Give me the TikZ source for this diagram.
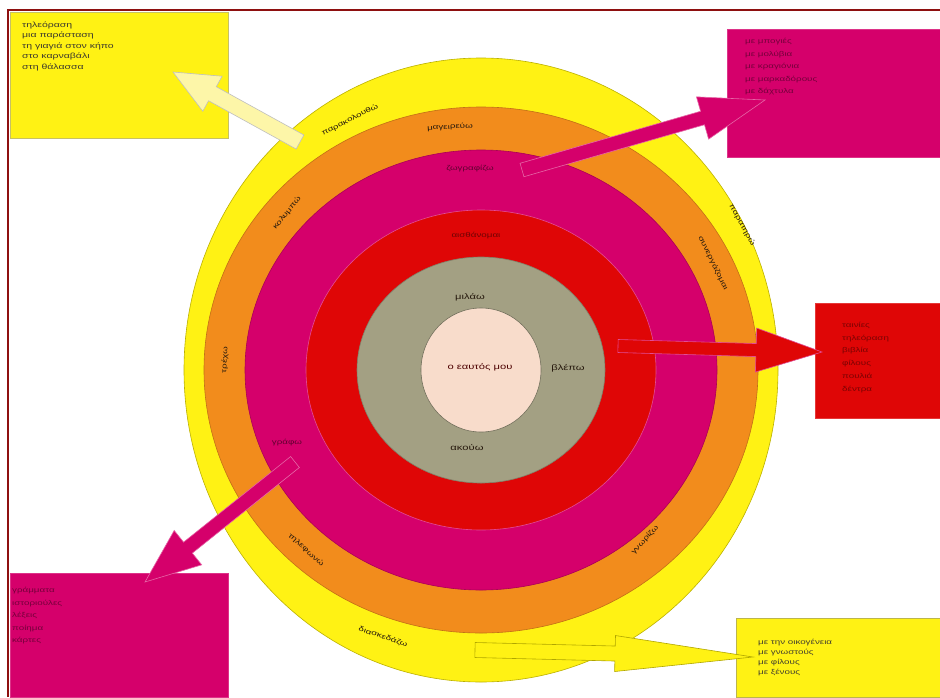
\documentclass[tikz,border=0pt]{standalone}
\usepackage{fontspec}
\setmainfont{Liberation Sans}
\usetikzlibrary{calc}
\definecolor{cyel}{HTML}{FFF214}
\definecolor{cora}{HTML}{F28C1C}
\definecolor{cmag}{HTML}{D5006B}
\definecolor{cred}{HTML}{DF0606}
\definecolor{colv}{HTML}{A3A083}
\definecolor{cpink}{HTML}{F8DCCB}
\definecolor{cframe}{HTML}{8E1010}
\definecolor{cpale}{HTML}{FDF6A8}
\newcommand{\sx}[1]{\scalebox{1.4}[1]{#1}}
\newcommand{\lines}[1]{\sx{\begin{tabular}{@{}l@{}}#1\end{tabular}}}
\newcommand{\blockarrow}[6]{%
  \coordinate (hb) at ($(#2)!#5!(#1)$);
  \draw[#6] ($(#1)!#3!90:(#2)$) -- ($(hb)!#3!-90:(#1)$) -- ($(hb)!#4!-90:(#1)$) -- (#2)
    -- ($(hb)!#4!90:(#1)$) -- ($(hb)!#3!90:(#1)$) -- ($(#1)!#3!-90:(#2)$) -- cycle;}
\begin{document}
\begin{tikzpicture}[x=1pt,y=-1pt,
  ring/.style={line width=0.6pt},
  box/.style={line width=0.5pt},
  boxtext/.style={anchor=north west,inner sep=0pt,font=\fontsize{7}{12.5}\selectfont},
  lbl/.style={inner sep=0pt,font=\fontsize{7}{8}\selectfont,text=black!80!brown},
  olbl/.style={lbl,font=\fontsize{8}{9}\selectfont},
  arr/.style={line width=0.6pt, line join=miter}]
\useasboundingbox (0,0) rectangle (940,697);
\fill[white] (0,0) rectangle (940,697);
\draw[cframe,line width=1.3pt] (8,697) -- (8,10) -- (940,10);

% boxes
\draw[box,fill=cyel,draw=olive!50] (10,12) rectangle (228,138);
\draw[box,fill=cmag,draw=cmag!80!white] (727,29) rectangle (940,157);
\draw[box,fill=cred,draw=cred!80!white] (815,303) rectangle (940,418);
\draw[box,fill=cmag,draw=cmag!80!white] (10,573) rectangle (228,697);
\draw[box,fill=cyel,draw=olive!60] (736,618) rectangle (940,697);

\node[boxtext,text=black!75!olive,font=\fontsize{7.5}{10.5}\selectfont] (t1) at (22,19.5)
  {\lines{τηλεόραση\\μια παράσταση\\τη γιαγιά στον κήπο\\στο καρναβάλι\\στη θάλασσα}};
\node[boxtext,text=cmag!55!black] (t2) at (745,35)
  {\lines{με μπογιές\\με μολύβια\\με κραγιόνια\\με μαρκαδόρους\\με δάχτυλα}};
\node[boxtext,text=cred!55!black,font=\fontsize{7}{12.7}\selectfont] (t3) at (842,318.5)
  {\lines{ταινίες\\τηλεόραση\\βιβλία\\φίλους\\πουλιά\\δέντρα}};
\node[boxtext,text=cmag!55!black] (t4) at (12,584)
  {\lines{γράμματα\\ιστοριούλες\\λέξεις\\ποίημα\\κάρτες}};
\node[boxtext,text=black!70!olive,font=\fontsize{7}{10}\selectfont] (t5) at (758,637.5)
  {\lines{με την οικογένεια\\με γνωστούς\\με φίλους\\με ξένους}};

% rings
\coordinate (c) at (481,370);
\draw[ring,fill=cyel,draw=olive!60!yellow] (c) ellipse [x radius=297pt,y radius=312pt];
\draw[ring,fill=cora,draw=cora!80!black] (c) ellipse [x radius=277pt,y radius=263pt];
\draw[ring,fill=cmag,draw=cmag!80!black] (c) ellipse [x radius=236pt,y radius=220pt];
\draw[ring,fill=cred,draw=cmag!70!white] (c) ellipse [x radius=175pt,y radius=160pt];
\draw[ring,fill=colv,draw=colv!80!black] (c) ellipse [x radius=124pt,y radius=113pt];
\draw[ring,fill=cpink,draw=colv!70!black] (c) ellipse [x radius=60pt,y radius=62pt];

% ring labels
\node[olbl,text=black!70!red] (me) at (480,367) {\sx{ο εαυτός μου}};
\node[olbl] (o1) at (470,297) {\sx{μιλάω}};
\node[olbl] (o2) at (568,368) {\sx{βλέπω}};
\node[olbl] (o3) at (467,448) {\sx{ακούω}};
\node[lbl,text=cred!50!black] (r1) at (476,236) {\sx{αισθάνομαι}};
\node[lbl,text=cmag!45!black] (m1) at (470,169) {\sx{ζωγραφίζω}};
\node[lbl,text=cmag!45!black] (m2) at (287,443) {\sx{γράφω}};
\node[lbl,rotate=3] (a1) at (450,127) {\sx{μαγειρεύω}};
\node[lbl,rotate=51] (a2) at (287,213) {\sx{κολυμπώ}};
\node[lbl,rotate=87] (a3) at (225,360) {\sx{τρέχω}};
\node[lbl,rotate=-64] (a4) at (713,263) {\sx{συνεργάζομαι}};
\node[lbl,rotate=-42] (a5) at (306,550) {\sx{τηλεφωνώ}};
\node[lbl,rotate=48] (a6) at (645,540) {\sx{γνωρίζω}};
\node[lbl,rotate=27] (y1) at (350,120) {\sx{παρακολουθώ}};
\node[lbl,rotate=-61] (y2) at (742,225) {\sx{παρατηρώ}};
\node[lbl,rotate=-19] (y3) at (383,637) {\sx{διασκεδάζω}};

% block arrows
\coordinate (p1) at (300,142); \coordinate (q1) at (173,72);
\blockarrow{p1}{q1}{8pt}{20pt}{45pt}{arr,fill=cpale,draw=black!25}
\coordinate (p2) at (522,170); \coordinate (q2) at (765,100);
\blockarrow{p2}{q2}{7pt}{22pt}{65pt}{arr,fill=cmag,draw=cmag!60!white}
\coordinate (p3) at (618,346); \coordinate (q3) at (822,352);
\blockarrow{p3}{q3}{6.5pt}{22pt}{66pt}{arr,fill=cred,draw=cmag!70!white}
\coordinate (p4) at (295,462); \coordinate (q4) at (145,582);
\blockarrow{p4}{q4}{7pt}{22pt}{55pt}{arr,fill=cmag,draw=cmag!60!white}
\coordinate (p5) at (475,650); \coordinate (q5) at (753,657);
\blockarrow{p5}{q5}{7.5pt}{18pt}{138pt}{arr,fill=cyel,draw=olive!70!yellow}
\end{tikzpicture}
\end{document}
